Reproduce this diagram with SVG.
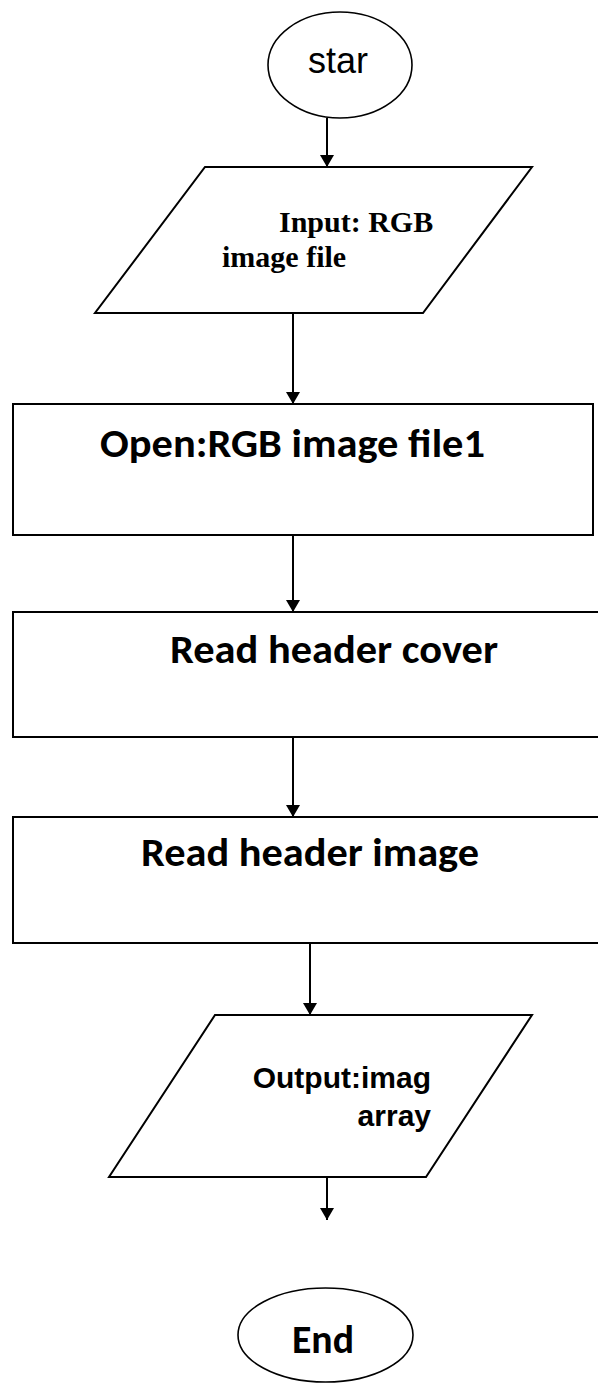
<svg xmlns="http://www.w3.org/2000/svg" width="598" height="1383" viewBox="0 0 598 1383">
<defs>
<marker id="ah" viewBox="0 0 12 14" refX="12" refY="7" markerWidth="12" markerHeight="14" markerUnits="userSpaceOnUse" orient="auto">
<path d="M0,0 L12,7 L0,14 Z" fill="#000"/>
</marker>
<clipPath id="inclip"><rect x="150" y="170" width="360" height="103"/></clipPath>
<style>
.shape{fill:#fff;stroke:#000;stroke-width:2}
.ell{fill:#fff;stroke:#000;stroke-width:1.6}
.conn{stroke:#000;stroke-width:2;fill:none;marker-end:url(#ah)}
.cal{font-family:Carlito,Calibri,Lato,"Open Sans",sans-serif;font-weight:bold;font-size:40px;fill:#000}
.ari{font-family:"Liberation Sans",Arial,sans-serif;fill:#000}
.tim{font-family:"Liberation Serif","Times New Roman",serif;font-weight:bold;font-size:30px;fill:#000}
</style>
</defs>
<rect width="598" height="1383" fill="#fff"/>
<g id="connectors">
<line class="conn" x1="327" y1="118" x2="327" y2="167"/>
<line class="conn" x1="293" y1="313" x2="293" y2="404"/>
<line class="conn" x1="293" y1="535" x2="293" y2="612"/>
<line class="conn" x1="293" y1="737" x2="293" y2="817"/>
<line class="conn" x1="310" y1="943" x2="310" y2="1015"/>
<line class="conn" x1="327" y1="1177" x2="327" y2="1220"/>
</g>
<g id="start">
<ellipse class="ell" cx="340" cy="65" rx="72" ry="53"/>
<text class="ari" x="308" y="73" font-size="36">star</text>
</g>
<g id="input">
<polygon class="shape" points="205,167 532,167 423,313 95,313"/>
<g clip-path="url(#inclip)">
<text class="tim" x="279" y="232">Input: RGB</text>
<text class="tim" x="222" y="267">image file</text>
</g>
</g>
<g id="open">
<rect class="shape" x="13" y="404" width="580" height="131"/>
<text class="cal" x="100" y="457" textLength="385" lengthAdjust="spacingAndGlyphs">Open:RGB image file1</text>
</g>
<g id="readcover">
<rect class="shape" x="13" y="612" width="600" height="125"/>
<text class="cal" x="170" y="663" textLength="328" lengthAdjust="spacingAndGlyphs">Read header cover</text>
</g>
<g id="readimage">
<rect class="shape" x="13" y="817" width="600" height="126"/>
<text class="cal" x="141" y="866" textLength="338" lengthAdjust="spacingAndGlyphs">Read header image</text>
</g>
<g id="output">
<polygon class="shape" points="215,1015 532,1015 426,1177 109,1177"/>
<text class="ari" x="431" y="1088" font-size="30" font-weight="bold" text-anchor="end">Output:imag</text>
<text class="ari" x="431" y="1126" font-size="30" font-weight="bold" text-anchor="end">array</text>
</g>
<g id="end">
<ellipse class="ell" cx="325.5" cy="1335" rx="87.5" ry="47"/>
<text class="cal" x="292" y="1353" textLength="62" lengthAdjust="spacingAndGlyphs">End</text>
</g>
</svg>
